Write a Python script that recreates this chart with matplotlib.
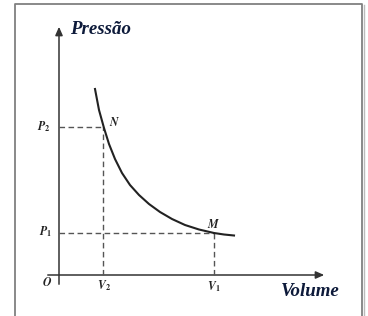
import matplotlib.pyplot as plt
from matplotlib.patches import FancyArrowPatch

plt.rcParams['mathtext.fontset'] = 'stix'

# curve (volume, pressure), origin at the axes corner
volume = [36, 40, 45, 50, 56, 63, 71, 80, 90, 101, 113, 126, 140, 155, 165, 175]
pressure = [186, 165, 147, 131, 116, 102, 90, 80, 71, 63, 56, 50, 45.5, 42, 40.5, 39.5]

# the two marked states
v2, p2 = 44, 148   # N
v1, p1 = 155, 42   # M

fig = plt.figure(figsize=(3.68, 3.16), dpi=100)
ax = fig.add_axes([0, 0, 1, 1])
ax.set_xlim(-59, 309)
ax.set_ylim(-41, 275)
ax.axis('off')

# picture frame
ax.plot([-44, -44, 303, 303], [-45, 271, 271, -45], color='#808080', lw=1.3)
ax.plot([304.5, 304.5], [270, -45], color='#bbbbbb', lw=1.0)

# axes with arrows
ax.add_patch(FancyArrowPatch((0, -12), (0, 251), arrowstyle='-|>,head_length=5,head_width=2.2',
                             color='#333333', lw=1.1, mutation_scale=1))
ax.add_patch(FancyArrowPatch((-14, 0), (268, 0), arrowstyle='-|>,head_length=5,head_width=2.2',
                             color='#333333', lw=1.1, mutation_scale=1))

# dashed guide lines
dash = dict(color='#555555', lw=1.0, ls=(0, (4, 2.5)))
ax.plot([0, v2], [p2, p2], **dash)
ax.plot([v2, v2], [0, p2], **dash)
ax.plot([0, v1], [p1, p1], **dash)
ax.plot([v1, v1], [0, p1], **dash)

# isotherm
ax.plot(volume, pressure, color='#222222', lw=1.5, solid_joinstyle='round')

lab = dict(fontsize=8.5, color='#222222', ha='center', va='center')
ax.text(-15, p2, r'$\mathbfit{P}_{\mathbf{2}}$', **lab)
ax.text(-13, p1 + 1, r'$\mathbfit{P}_{\mathbf{1}}$', **lab)
ax.text(-12, -8, r'$\mathbfit{O}$', **lab)
ax.text(v2 + 1, -11, r'$\mathbfit{V}_{\mathbf{2}}$', **lab)
ax.text(v1, -12, r'$\mathbfit{V}_{\mathbf{1}}$', **lab)
ax.text(v2 + 12, p2 + 4, r'$\mathbfit{N}$', **lab)
ax.text(v1, p1 + 8, r'$\mathbfit{M}$', **lab)

title = dict(fontsize=13.6, color='#0d1a3a', family='Liberation Serif', weight='bold',
             style='italic', va='center')
ax.text(11, 246, 'Pressão', ha='left', **title)
ax.text(222, -16, 'Volume', ha='left', **title)

fig.savefig('out.png', dpi=100)
